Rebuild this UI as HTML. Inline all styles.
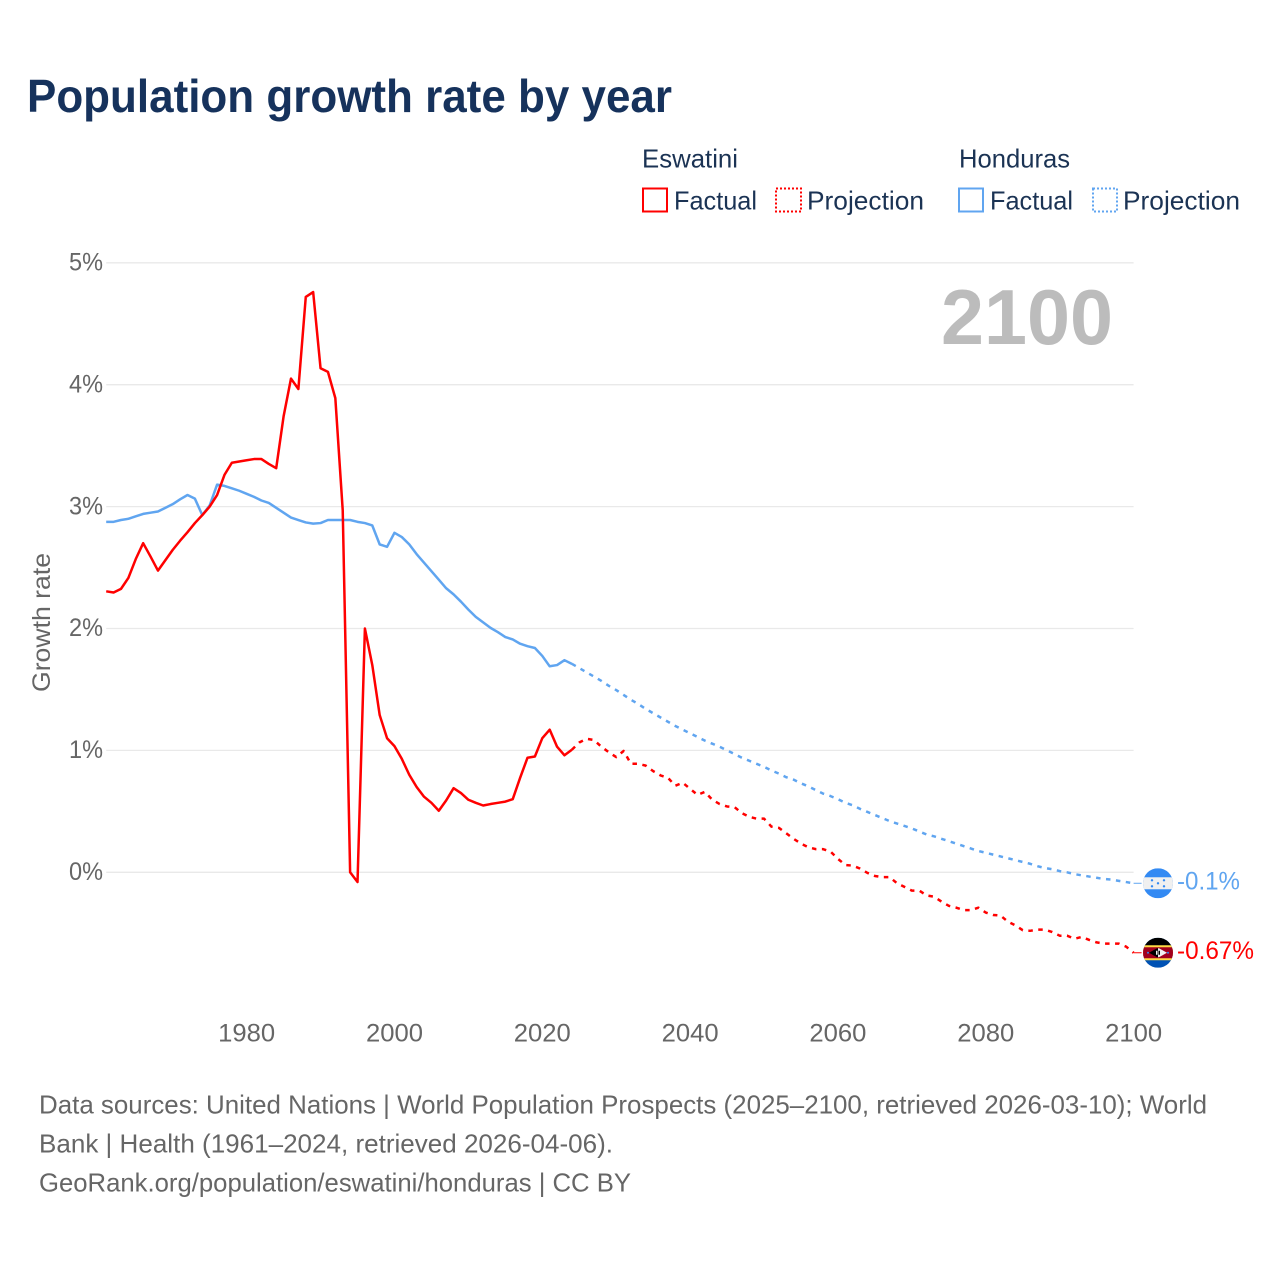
<!DOCTYPE html>
<html lang="en">
<head>
<meta charset="utf-8">
<title>Population growth rate by year</title>
<style>
html,body{margin:0;padding:0;background:#fff;width:1280px;height:1280px;overflow:hidden}
svg{display:block}
text{font-family:"Liberation Sans",Arial,sans-serif}
.legend{fill:#1b3354;font-size:26px}
.tick{fill:#666;font-size:25px}
.foot{fill:#666;font-size:26px}
</style>
</head>
<body>
<svg id="chart" width="1280" height="1280" viewBox="0 0 1280 1280" xmlns="http://www.w3.org/2000/svg">
  <defs>
    <clipPath id="flag-clip"><circle cx="0" cy="0" r="15"/></clipPath>
  </defs>
  <text x="27" y="112" font-size="46" font-weight="700" fill="#16325c" textLength="645" lengthAdjust="spacingAndGlyphs">Population growth rate by year</text>

  <g>
    <text class="legend" x="642" y="167.5" textLength="96" lengthAdjust="spacingAndGlyphs">Eswatini</text>
    <text class="legend" x="959" y="167.5" textLength="111" lengthAdjust="spacingAndGlyphs">Honduras</text>
    <rect x="643" y="188.5" width="24" height="23" fill="none" stroke="#ff0000" stroke-width="2"/>
    <text class="legend" x="674" y="209.5" textLength="83" lengthAdjust="spacingAndGlyphs">Factual</text>
    <rect x="776" y="188.5" width="25" height="23" fill="none" stroke="#ff0000" stroke-width="2" stroke-dasharray="2 2"/>
    <text class="legend" x="807" y="209.5" textLength="117" lengthAdjust="spacingAndGlyphs">Projection</text>
    <rect x="959" y="188.5" width="24" height="23" fill="none" stroke="#60a5f0" stroke-width="2"/>
    <text class="legend" x="990" y="209.5" textLength="83" lengthAdjust="spacingAndGlyphs">Factual</text>
    <rect x="1093" y="188.5" width="24" height="23" fill="none" stroke="#60a5f0" stroke-width="2" stroke-dasharray="2 2"/>
    <text class="legend" x="1123" y="209.5" textLength="117" lengthAdjust="spacingAndGlyphs">Projection</text>
  </g>

  <g id="grid"></g>
  <g id="y-ticks"></g>
  <g id="x-ticks"></g>

  <text transform="translate(50,622.5) rotate(-90)" text-anchor="middle" fill="#666" font-size="25" textLength="139" lengthAdjust="spacingAndGlyphs">Growth rate</text>
  <text x="1113" y="344" text-anchor="end" font-size="78" font-weight="700" fill="#bcbcbc" textLength="172" lengthAdjust="spacingAndGlyphs">2100</text>

  <g id="series"></g>

  <g id="flag-honduras">
    <g clip-path="url(#flag-clip)">
      <rect x="-15" y="-15" width="30" height="30" fill="#338af3"/>
      <rect x="-15" y="-6" width="30" height="12" fill="#f0f0f0"/>
      <g fill="#338af3">
        <circle cx="0" cy="0" r="1.2"/>
        <circle cx="-6" cy="-3" r="1.2"/>
        <circle cx="6" cy="-3" r="1.2"/>
        <circle cx="-6" cy="3" r="1.2"/>
        <circle cx="6" cy="3" r="1.2"/>
      </g>
    </g>
  </g>
  <g id="flag-eswatini">
    <g clip-path="url(#flag-clip)">
      <rect x="-15" y="-15" width="30" height="30" fill="#0052b4"/>
      <rect x="-15" y="-15" width="30" height="8" fill="#000"/>
      <rect x="-15" y="-7.5" width="30" height="15" fill="#ffda44"/>
      <rect x="-15" y="-5.5" width="30" height="11" fill="#a2001d"/>
      <path d="M-9 0L-1 -4.5L0 -4.5L0 4.5L-1 4.5Z" fill="#000"/>
      <path d="M9 0L1 -4.5L0 -4.5L0 4.5L1 4.5Z" fill="#f0f0f0"/>
      <rect x="-2" y="-2" width="1.5" height="4" fill="#f0f0f0"/>
      <rect x="0.5" y="-2" width="1.5" height="4" fill="#000"/>
      <circle cx="-10" cy="0" r="1" fill="#338af3"/>
      <circle cx="10" cy="0" r="1" fill="#338af3"/>
    </g>
  </g>
  <text id="end-label-honduras" x="1177" font-size="25" fill="#60a5f0" textLength="63" lengthAdjust="spacingAndGlyphs"></text>
  <text id="end-label-eswatini" x="1177" font-size="25" fill="#ff0000" textLength="77" lengthAdjust="spacingAndGlyphs"></text>

  <g>
    <text class="foot" x="39" y="1113.5" textLength="1168" lengthAdjust="spacingAndGlyphs">Data sources: United Nations | World Population Prospects (2025–2100, retrieved 2026-03-10); World</text>
    <text class="foot" x="39" y="1152.5" textLength="574" lengthAdjust="spacingAndGlyphs">Bank | Health (1961–2024, retrieved 2026-04-06).</text>
    <text class="foot" x="39" y="1191.5" textLength="592" lengthAdjust="spacingAndGlyphs">GeoRank.org/population/eswatini/honduras | CC BY</text>
  </g>
</svg>
<script>
const firstFactualYear = 1961;
const firstProjectionYear = 2025;
const yTickValues = [0, 1, 2, 3, 4, 5];
const xTickYears = [1980, 2000, 2020, 2040, 2060, 2080, 2100];
const endLabelHonduras = "-0.1%";
const endLabelEswatini = "-0.67%";

const eswatiniFactual = [2.305,2.295,2.325,2.415,2.57,2.70,2.59,2.475,2.56,2.645,2.72,2.79,2.865,2.93,3.0,3.095,3.26,3.36,3.37,3.38,3.39,3.39,3.35,3.315,3.74,4.05,3.965,4.72,4.76,4.135,4.105,3.89,2.97,0.0,-0.08,2.0,1.70,1.29,1.10,1.035,0.93,0.80,0.70,0.62,0.57,0.505,0.59,0.69,0.65,0.595,0.57,0.548,0.56,0.57,0.58,0.60,0.775,0.94,0.95,1.10,1.17,1.03,0.96,1.005];
const eswatiniProjection = [1.065,1.095,1.085,1.03,0.985,0.945,0.995,0.89,0.89,0.875,0.83,0.795,0.775,0.71,0.735,0.685,0.635,0.66,0.595,0.56,0.54,0.535,0.485,0.455,0.44,0.44,0.375,0.365,0.32,0.275,0.235,0.205,0.19,0.19,0.17,0.11,0.06,0.055,0.03,-0.005,-0.03,-0.04,-0.04,-0.09,-0.12,-0.15,-0.15,-0.19,-0.20,-0.24,-0.275,-0.29,-0.31,-0.31,-0.29,-0.33,-0.35,-0.355,-0.405,-0.435,-0.475,-0.48,-0.47,-0.47,-0.49,-0.52,-0.52,-0.545,-0.53,-0.555,-0.575,-0.585,-0.585,-0.585,-0.61,-0.66];
const hondurasFactual = [2.875,2.875,2.89,2.90,2.92,2.94,2.95,2.96,2.99,3.02,3.06,3.095,3.065,2.93,3.01,3.18,3.17,3.15,3.13,3.105,3.08,3.05,3.03,2.99,2.95,2.91,2.89,2.87,2.86,2.865,2.89,2.89,2.89,2.89,2.875,2.865,2.845,2.69,2.67,2.785,2.75,2.69,2.61,2.54,2.47,2.40,2.33,2.28,2.22,2.155,2.095,2.05,2.005,1.97,1.93,1.91,1.875,1.855,1.84,1.775,1.69,1.70,1.74,1.71];
const hondurasProjection = [1.675,1.64,1.605,1.57,1.53,1.495,1.455,1.415,1.38,1.34,1.305,1.27,1.235,1.20,1.17,1.14,1.11,1.08,1.055,1.03,1.00,0.97,0.94,0.915,0.89,0.865,0.835,0.81,0.78,0.76,0.73,0.705,0.675,0.645,0.625,0.60,0.57,0.55,0.52,0.495,0.47,0.445,0.42,0.40,0.38,0.36,0.335,0.31,0.295,0.275,0.255,0.235,0.215,0.195,0.175,0.16,0.145,0.13,0.115,0.10,0.085,0.07,0.05,0.035,0.025,0.01,0.0,-0.015,-0.025,-0.035,-0.045,-0.055,-0.06,-0.07,-0.08,-0.09];

const NS = "http://www.w3.org/2000/svg";
const RED = "#ff0000";
const BLUE = "#60a5f0";

function xScale(year) { return 106.2 + (year - 1961) * (1133.6 - 106.2) / 139; }
function yScale(value) { return 872.3 - value * 121.9; }

function make(tag, parent) {
  const el = document.createElementNS(NS, tag);
  parent.appendChild(el);
  return el;
}

function linePath(startYear, values, prevYear, prevValue) {
  const parts = [];
  if (prevYear !== null) {
    parts.push("M" + xScale(prevYear).toFixed(2) + " " + yScale(prevValue).toFixed(2));
  }
  values.forEach(function (v, i) {
    const cmd = parts.length ? "L" : "M";
    parts.push(cmd + xScale(startYear + i).toFixed(2) + " " + yScale(v).toFixed(2));
  });
  return parts.join("");
}

const gridGroup = document.getElementById("grid");
const yTickGroup = document.getElementById("y-ticks");
yTickValues.forEach(function (v) {
  const line = make("line", gridGroup);
  
  
  line.setAttribute("x1", xScale(1961));
  line.setAttribute("x2", xScale(2100));
  line.setAttribute("y1", yScale(v));
  line.setAttribute("y2", yScale(v));
  line.setAttribute("stroke", "#e9e9e9");
  line.setAttribute("stroke-width", "1.3");

  const label = make("text", yTickGroup);
  
  
  label.setAttribute("class", "tick");
  label.setAttribute("x", 103);
  label.setAttribute("y", yScale(v) + 7.7);
  label.setAttribute("text-anchor", "end");
  label.setAttribute("textLength", "34");
  label.setAttribute("lengthAdjust", "spacingAndGlyphs");
  label.textContent = v + "%";
});

const xTickGroup = document.getElementById("x-ticks");
xTickYears.forEach(function (year) {
  const label = make("text", xTickGroup);
  
  
  label.setAttribute("class", "tick");
  label.setAttribute("x", xScale(year));
  label.setAttribute("y", 1041.5);
  label.setAttribute("text-anchor", "middle");
  label.setAttribute("textLength", "57");
  label.setAttribute("lengthAdjust", "spacingAndGlyphs");
  label.textContent = year;
});

const seriesGroup = document.getElementById("series");

const hnFactualLine = make("path", seriesGroup);


hnFactualLine.setAttribute("d", linePath(firstFactualYear, hondurasFactual, null, null));
hnFactualLine.setAttribute("stroke", BLUE);

const hnProjectionLine = make("path", seriesGroup);


hnProjectionLine.setAttribute("d", linePath(firstProjectionYear, hondurasProjection, firstProjectionYear - 1, hondurasFactual[hondurasFactual.length - 1]));
hnProjectionLine.setAttribute("stroke", BLUE);
hnProjectionLine.setAttribute("stroke-dasharray", "4.5 5.5");

const esFactualLine = make("path", seriesGroup);


esFactualLine.setAttribute("d", linePath(firstFactualYear, eswatiniFactual, null, null));
esFactualLine.setAttribute("stroke", RED);

const esProjectionLine = make("path", seriesGroup);


esProjectionLine.setAttribute("d", linePath(firstProjectionYear, eswatiniProjection, firstProjectionYear - 1, eswatiniFactual[eswatiniFactual.length - 1]));
esProjectionLine.setAttribute("stroke", RED);
esProjectionLine.setAttribute("stroke-dasharray", "4.5 5.5");

[hnFactualLine, hnProjectionLine, esFactualLine, esProjectionLine].forEach(function (p) {
  p.setAttribute("fill", "none");
  p.setAttribute("stroke-width", "2.5");
  p.setAttribute("stroke-linejoin", "round");
});

const lastYear = firstProjectionYear + eswatiniProjection.length - 1;
const hnEnd = yScale(hondurasProjection[hondurasProjection.length - 1]);
const esEnd = yScale(eswatiniProjection[eswatiniProjection.length - 1]);

const hnConnector = make("line", seriesGroup);


hnConnector.setAttribute("x1", xScale(lastYear));
hnConnector.setAttribute("x2", xScale(lastYear) + 8);
hnConnector.setAttribute("y1", hnEnd);
hnConnector.setAttribute("y2", hnEnd);
hnConnector.setAttribute("stroke", BLUE);
hnConnector.setAttribute("stroke-width", "1");

const esConnector = make("line", seriesGroup);


esConnector.setAttribute("x1", xScale(lastYear));
esConnector.setAttribute("x2", xScale(lastYear) + 8);
esConnector.setAttribute("y1", esEnd);
esConnector.setAttribute("y2", esEnd);
esConnector.setAttribute("stroke", RED);
esConnector.setAttribute("stroke-width", "1");

document.getElementById("flag-honduras").setAttribute("transform", "translate(" + (xScale(lastYear) + 24.4) + "," + hnEnd + ")");
document.getElementById("flag-eswatini").setAttribute("transform", "translate(" + (xScale(lastYear) + 24.4) + "," + esEnd + ")");

const hnLabel = document.getElementById("end-label-honduras");
hnLabel.setAttribute("y", hnEnd + 6);
hnLabel.textContent = endLabelHonduras;

const esLabel = document.getElementById("end-label-eswatini");
esLabel.setAttribute("y", esEnd + 6);
esLabel.textContent = endLabelEswatini;
</script>
</body>
</html>
